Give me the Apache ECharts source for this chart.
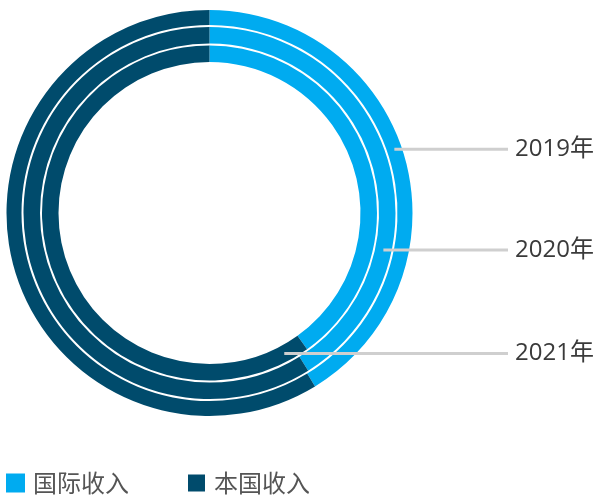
<!DOCTYPE html>
<html>
<head>
<meta charset="utf-8">
<script src="https://cdn.jsdelivr.net/npm/echarts@6/dist/echarts.min.js"></script>
<style>
  html, body { margin: 0; padding: 0; background: #fff; }
  #chart { width: 598px; height: 499px; }
</style>
</head>
<body>
<div id="chart"></div>
<script>
// Revenue mix per year, outer ring = earliest year
const years = ['2019年', '2020年', '2021年'];
const seriesNames = ['国际收入', '本国收入'];
const intlShare = [41.3, 41.1, 40.1];
const domesticShare = [58.7, 58.9, 59.9];
// angle (deg, clockwise from 12 o'clock) where each year's callout touches its ring
const calloutAngles = [71, 102, 152];

const colors = ['#00abf0', '#004b6c'];
const center = [209.5, 213];
const rings = [[188, 203], [169.5, 186], [151, 167.5]];
const calloutEndX = 508;

const chart = echarts.init(document.getElementById('chart'), null, { renderer: 'canvas' });

const series = years.map((year, i) => ({
  type: 'pie',
  name: year,
  center: center,
  radius: rings[i],
  startAngle: 90,
  clockwise: true,
  silent: true,
  label: { show: false },
  labelLine: { show: false },
  itemStyle: { borderWidth: 0 },
  data: [
    { name: seriesNames[0], value: intlShare[i], itemStyle: { color: colors[0] } },
    { name: seriesNames[1], value: domesticShare[i], itemStyle: { color: colors[1] } }
  ]
}));

// Callout lines and year labels, anchored on the middle of each ring
const graphics = [];
years.forEach((year, i) => {
  const r = (rings[i][0] + rings[i][1]) / 2;
  const a = calloutAngles[i] * Math.PI / 180;
  const x0 = center[0] + r * Math.sin(a);
  const y0 = center[1] - r * Math.cos(a);
  graphics.push({
    type: 'line',
    silent: true,
    z: 100,
    shape: { x1: x0, y1: y0, x2: calloutEndX, y2: y0 },
    style: { stroke: '#cfcfcf', lineWidth: 3 }
  });
  graphics.push({
    type: 'text',
    silent: true,
    z: 100,
    x: calloutEndX + 7,
    y: y0,
    style: {
      text: year,
      fill: '#3a3a3a',
      font: '24px "Open Sans", "Noto Sans CJK SC", sans-serif',
      verticalAlign: 'middle',
      align: 'left'
    }
  });
});

chart.setOption({
  animation: false,
  color: colors,
  legend: {
    left: 6,
    top: 471,
    padding: 0,
    itemWidth: 19,
    itemHeight: 19,
    itemGap: 57,
    icon: 'rect',
    textStyle: {
      fontSize: 24,
      color: '#555',
      padding: [0, 0, 0, 3],
      fontFamily: '"Noto Sans CJK SC", sans-serif'
    },
    data: [
      { name: seriesNames[0] },
      { name: seriesNames[1], itemStyle: { borderColor: '#fff', borderWidth: 2 } }
    ]
  },
  graphic: graphics,
  series: series
});
</script>
</body>
</html>
